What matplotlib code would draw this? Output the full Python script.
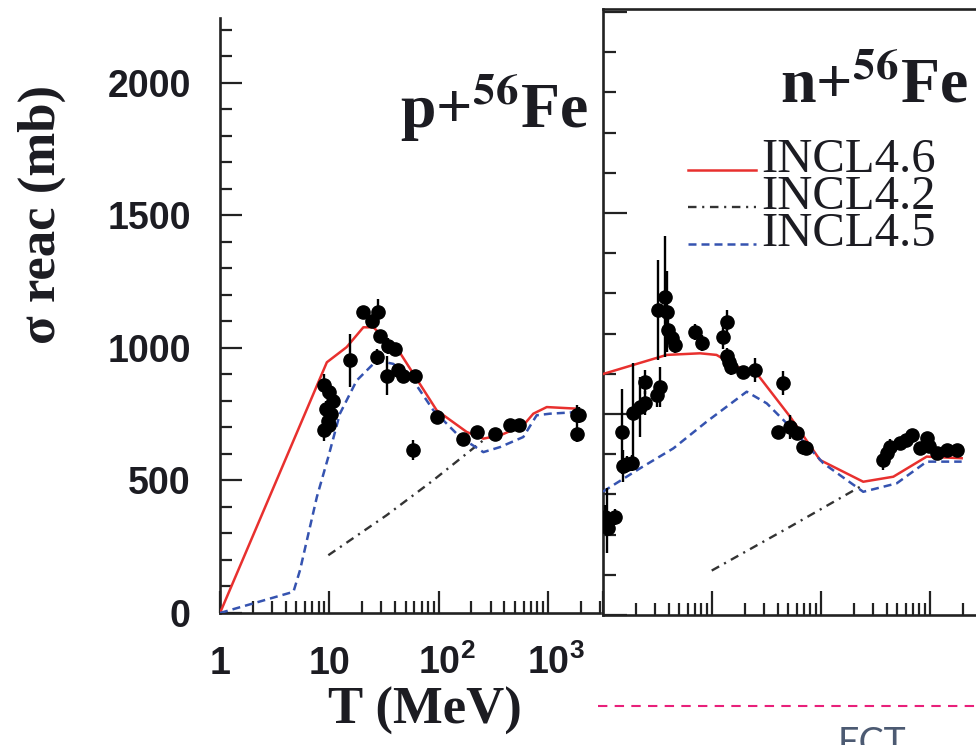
import numpy as np
import matplotlib
matplotlib.use("Agg")
import matplotlib.pyplot as plt
import matplotlib.transforms as mtransforms
from matplotlib.lines import Line2D
from matplotlib.ticker import LogLocator, MultipleLocator, NullFormatter

plt.rcParams['mathtext.fontset'] = 'custom'
plt.rcParams['mathtext.bf'] = 'Liberation Sans:bold'
plt.rcParams['mathtext.rm'] = 'Liberation Sans'

# ---- p + 56Fe ----
p46_T = [1, 9.5, 14.4, 20.5, 25.3, 44, 96, 181, 257, 365, 596, 736, 977, 1834]
p46_s = [0, 946, 1003, 1078, 1078, 984, 765, 683, 658, 670, 708, 752, 777, 771]
p45_T = [1, 4.7, 5.4, 7.7, 9.8, 12.5, 17.8, 27.2, 38.5, 58.7, 89.5, 157, 257, 365, 596, 790, 1045, 1834]
p45_s = [0, 80, 162, 438, 589, 752, 877, 953, 940, 877, 765, 664, 607, 626, 664, 746, 752, 758]
p42_T = [9.8, 33.5, 89.5, 257]
p42_s = [218, 369, 501, 652]
p_exp_T = [9.0, 10.0, 10.8, 9.3, 10.3, 9.7, 9.0, 10.0, 15.5, 20.5, 28, 24.4, 29.1, 27.2,
           34.6, 39.9, 33.5, 42.8, 47.6, 60.9, 58.7, 95.8, 168, 223, 326, 450, 540,
           1834, 1940, 1834]
p_exp_s = [860, 835, 800, 770, 750, 725, 690, 710, 953, 1135, 1135, 1103, 1047, 965,
           1009, 997, 896, 915, 896, 896, 614, 739, 658, 683, 674, 708, 708,
           746, 746, 677]
p_exp_e = [40, 30, 30, 30, 30, 30, 40, 30, 100, 20, 50, 20, 20, 30,
           30, 20, 75, 20, 20, 20, 38, 15, 15, 15, 15, 15, 15,
           40, 30, 30]

# ---- n + 56Fe ----
n46_T = [1, 3.84, 7.76, 11.0, 16.9, 25.7, 52, 98, 244, 461, 933, 1952]
n46_s = [1199, 1294, 1302, 1294, 1235, 1202, 987, 771, 663, 688, 788, 780]
n45_T = [1, 2.19, 4.42, 8.94, 20.8, 31.8, 52, 105, 244, 495, 933, 1952]
n45_s = [614, 730, 829, 962, 1111, 1053, 937, 755, 613, 655, 763, 763]
n42_T = [9.94, 52, 244]
n42_s = [221, 439, 647]
n_exp_T = [1.04, 1.29, 1.12, 1.08, 1.48, 1.54, 1.65, 1.83, 1.9, 2.19, 2.43, 2.43, 3.1, 3.33,
           3.22, 3.7, 3.84, 3.97, 4.3, 4.6, 6.98, 8.03, 13.6, 12.7, 13.6, 14.2, 15.0,
           19.3, 24.7, 45, 40.6, 52, 59.7, 68.9, 73.6, 373, 400, 429, 530, 600, 679,
           809, 933, 980, 1152, 1422, 1762]
n_exp_s = [489, 489, 431, 470, 912, 740, 750, 756, 1003, 1036, 1161, 1053, 1095, 1136,
           1517, 1584, 1509, 1418, 1380, 1343, 1410, 1352, 1459, 1385, 1290, 1260, 1235,
           1210, 1219, 1153, 912, 937, 904, 837, 829, 771, 804, 837, 854, 870, 895,
           829, 879, 840, 804, 821, 821]
n_exp_e = [60, 40, 40, 160, 210, 80, 40, 40, 250, 150, 60, 60, 60, 100,
           250, 300, 200, 60, 40, 40, 40, 40, 60, 60, 40, 40, 40,
           30, 60, 60, 30, 60, 30, 30, 30, 50, 40, 40, 30, 30, 30,
           30, 30, 30, 30, 30, 30]

red = '#e8302e'
blue = '#3553b0'
dark = '#333333'
ink = '#1c1c22'
serif = 'Liberation Serif'
sans = 'Liberation Sans'

fig = plt.figure(figsize=(9.76, 7.45), dpi=100)
ax1 = fig.add_axes([220 / 976, 132 / 745, 380 / 976, 595 / 745])
ax2 = fig.add_axes([603 / 976, 130 / 745, 379 / 976, 606 / 745])


def draw(ax, T46, s46, T42, s42, T45, s45, Te, se, ee):
    ax.plot(T46, s46, color=red, lw=1.8, label='INCL4.6', zorder=3)
    ax.plot(T42, s42, color=dark, lw=1.7, dashes=(3.6, 2.4, 0.9, 2.4), label='INCL4.2', zorder=3)
    ax.plot(T45, s45, color=blue, lw=1.8, dashes=(3.2, 2.0), label='INCL4.5', zorder=3)
    ax.errorbar(Te, se, yerr=ee, fmt='o', color='black', ms=9.5, elinewidth=1.7,
                capsize=0, zorder=4)
    ax.set_xscale('log')
    ax.xaxis.set_minor_locator(LogLocator(base=10, subs=np.arange(2, 10)))
    ax.xaxis.set_minor_formatter(NullFormatter())
    ax.tick_params(which='both', direction='in', width=1.6, colors='#222222')
    ax.tick_params(which='major', length=16)
    ax.tick_params(which='minor', length=8.5)
    for sp in ax.spines.values():
        sp.set_linewidth(1.9)
        sp.set_color('#222222')


draw(ax1, p46_T, p46_s, p42_T, p42_s, p45_T, p45_s, p_exp_T, p_exp_s, p_exp_e)
draw(ax2, n46_T, n46_s, n42_T, n42_s, n45_T, n45_s, n_exp_T, n_exp_s, n_exp_e)

# left panel
ax1.set_xlim(1, 3000)
ax1.set_ylim(0, 2245)
ax1.spines['top'].set_visible(False)
ax1.spines['right'].set_visible(False)
ax1.yaxis.set_major_locator(MultipleLocator(500))
ax1.yaxis.set_minor_locator(MultipleLocator(100))
ax1.set_xticks([1, 10, 100, 1000], ['1', '10', r'10$^{\mathbf{2}}$', r'10$^{\mathbf{3}}$'])
ax1.tick_params(axis='y', which='major', pad=21)
ax1.tick_params(axis='x', which='major', pad=44)
for lab in ax1.get_yticklabels() + ax1.get_xticklabels():
    lab.set_fontfamily(sans)
    lab.set_fontweight('bold')
    lab.set_fontsize(27)
    lab.set_color(ink)
shift = mtransforms.ScaledTranslation(8 / 100, 0, fig.dpi_scale_trans)
for lab in ax1.get_xticklabels():
    lab.set_va('baseline')
    if '$' in lab.get_text():
        lab.set_transform(lab.get_transform() + shift)

ax1.set_ylabel('σ reac (mb)', fontfamily=serif, fontweight='bold', fontsize=38, color=ink)
ax1.yaxis.set_label_coords(-0.405, 0.67)
ax1.set_xlabel('T (MeV)', fontfamily=serif, fontweight='bold', fontsize=38, color=ink)
ax1.xaxis.set_label_coords(0.539, -0.125)

ax1.text(0.968, 0.815, r'p+$^{\mathbf{56}}$Fe', transform=ax1.transAxes, ha='right',
         va='baseline', fontfamily=serif, fontweight='bold', fontsize=46, color=ink,
         math_fontfamily='stix')

# right panel
ax2.set_xlim(1, 3000)
ax2.set_ylim(0, 3015)
ax2.spines['right'].set_visible(False)
ax2.yaxis.set_major_locator(MultipleLocator(1000))
ax2.yaxis.set_minor_locator(MultipleLocator(200))
ax2.set_xticks([1, 10, 100, 1000])
ax2.tick_params(which='major', length=17)
ax2.tick_params(which='minor', length=9)
ax2.tick_params(labelleft=False, labelbottom=False)

ax2.text(0.963, 0.8465, r'n+$^{\mathbf{56}}$Fe', transform=ax2.transAxes, ha='right',
         va='baseline', fontfamily=serif, fontweight='bold', fontsize=46, color=ink,
         math_fontfamily='stix')

leg = ax2.legend(loc='upper left', bbox_to_anchor=(688 / 976, 1 - 138 / 745),
                 bbox_transform=fig.transFigure, frameon=False, borderpad=0,
                 borderaxespad=0, handlelength=1.4, handletextpad=0.1,
                 labelspacing=-0.15, prop={'family': serif, 'size': 35})
for t in leg.get_texts():
    t.set_color(ink)
for ln in leg.get_lines():
    ln.set_ydata(np.asarray(ln.get_ydata()) - 0.35 * 35 * 0.9)

# slide decoration below the right panel
fig.add_artist(Line2D([598 / 976, 1.0], [1 - 706 / 745] * 2, transform=fig.transFigure,
                      color='#e8207a', lw=1.5, dashes=(4.5, 3.5)))
fig.text(838 / 976, 1 - 755 / 745, 'ECT', fontfamily='Lato', fontsize=27,
         color='#4c5a72', va='baseline', ha='left')

fig.savefig('out.png', dpi=100, facecolor='white')
